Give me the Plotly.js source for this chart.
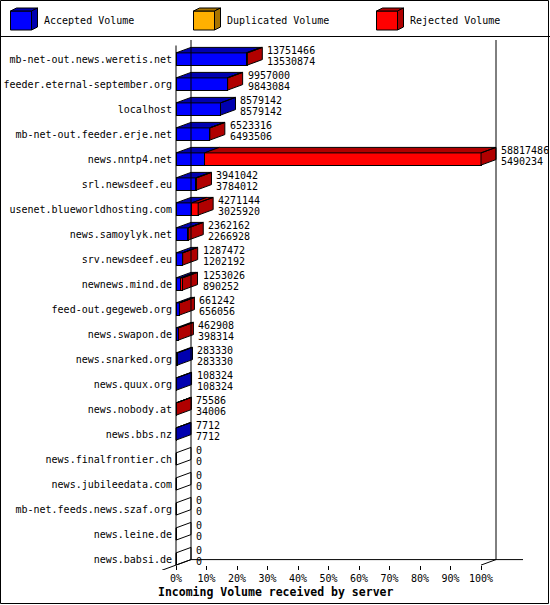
<!DOCTYPE html>
<html>
<head>
<meta charset="utf-8">
<script src="https://cdn.plot.ly/plotly-3.0.1.min.js"></script>
<style>
  html, body { margin: 0; padding: 0; background: #fff; }
  #chart { width: 550px; height: 605px; }
</style>
</head>
<body>
<div id="chart"></div>
<script>
const hosts = [
  'mb-net-out.news.weretis.net', 'feeder.eternal-september.org', 'localhost',
  'mb-net-out.feeder.erje.net', 'news.nntp4.net', 'srl.newsdeef.eu',
  'usenet.blueworldhosting.com', 'news.samoylyk.net', 'srv.newsdeef.eu',
  'newnews.mind.de', 'feed-out.gegeweb.org', 'news.swapon.de',
  'news.snarked.org', 'news.quux.org', 'news.nobody.at', 'news.bbs.nz',
  'news.finalfrontier.ch', 'news.jubileedata.com', 'mb-net.feeds.news.szaf.org',
  'news.leine.de', 'news.babsi.de',
]
const offered = [13751466, 9957000, 8579142, 6523316, 58817486, 3941042, 4271144, 2362162, 1287472, 1253026, 661242, 462908, 283330, 108324, 75586, 7712, 0, 0, 0, 0, 0]
const accepted = [13530874, 9843084, 8579142, 6493506, 5490234, 3784012, 3025920, 2266928, 1202192, 890252, 656056, 398314, 283330, 108324, 34006, 7712, 0, 0, 0, 0, 0]
const duplicated = [0, 0, 0, 0, 0, 0, 0, 0, 0, 0, 0, 0, 0, 0, 0, 0, 0, 0, 0, 0, 0]
const rejected = offered.map((o, i) => o - accepted[i] - duplicated[i])

const seriesNames = ['Accepted Volume', 'Duplicated Volume', 'Rejected Volume']
const frontColors = ['#0000ff', '#ffb000', '#ff0000']
const darkColors = ['#0000b0', '#a87400', '#b00000']
const xTicks = [0, 10, 20, 30, 40, 50, 60, 70, 80, 90, 100]

const FONT = 'DejaVu Sans Mono, Liberation Mono, monospace'
const W = 550
const H = 605
const M = { l: 162, r: 27, t: 40, b: 35 }
const pw = W - M.l - M.r
const ph = H - M.t - M.b
const px = X => (X - M.l) / pw
const py = Y => (H - M.b - Y) / ph

// front-left corner of the 3d box sits at pixel 176, 305px per 100%
const X0 = 176
const PPU = 3.05
const ROW0 = 59
const ROW = 25
const xr = [(M.l - X0) / PPU, (W - M.r - X0) / PPU]
const yr = [(H - M.b - ROW0) / ROW, (M.t - ROW0) / ROW]
const DX = 15 / PPU
const DY = -5.5 / ROW
const HB = 6.1 / ROW

const max = Math.max(...offered)
const segs = [accepted, duplicated, rejected].map(a => a.map(v => (100 * v) / max))
const idx = hosts.map((_, i) => i)

const traces = segs.map((s, k) => ({
  type: 'bar',
  orientation: 'h',
  x: s,
  y: idx,
  width: 2 * HB,
  marker: { color: frontColors[k], line: { color: '#000', width: 1 } },
  hoverinfo: 'skip',
  name: seriesNames[k],
}))

// top and side faces of the 3d bars
const faces = [0, 1, 2].map(() => ({ x: [], y: [] }))
const empty = { x: [], y: [] }
const poly = (f, pts) => {
  for (const [x, y] of pts) {
    f.x.push(x)
    f.y.push(y)
  }
  f.x.push(pts[0][0], null)
  f.y.push(pts[0][1], null)
}
idx.forEach(i => {
  const yt = i - HB
  const yb = i + HB
  let x0 = 0
  let last = -1
  segs.forEach((s, k) => {
    const v = s[i]
    if (v <= 0) return
    poly(faces[k], [[x0, yt], [x0 + v, yt], [x0 + v + DX, yt + DY], [x0 + DX, yt + DY]])
    x0 += v
    last = k
  })
  poly(last < 0 ? empty : faces[last], [[x0, yt], [x0 + DX, yt + DY], [x0 + DX, yb + DY], [x0, yb]])
})
faces.forEach((f, k) => {
  traces.push({
    type: 'scatter', mode: 'lines', x: f.x, y: f.y, fill: 'toself',
    fillcolor: darkColors[k], line: { color: '#000', width: 1 }, hoverinfo: 'skip',
  })
})
traces.push({
  type: 'scatter', mode: 'lines', x: empty.x, y: empty.y,
  line: { color: '#000', width: 1 }, hoverinfo: 'skip',
})

const yFloor = hosts.length - 1 + HB
const line = (x0, y0, x1, y1) => ({
  type: 'line', xref: 'x', yref: 'y', x0, y0, x1, y1, line: { color: '#000', width: 1 },
})
const shapes = [
  line(0, yr[1] - DY, 0, yFloor),
  line(DX, yr[1], DX, yFloor + DY),
  line(100 + DX, yr[1], 100 + DX, yFloor + DY),
  line(DX, yFloor + DY, xr[1], yFloor + DY),
  line(xr[0], yFloor + (DY * xr[0]) / DX, DX, yFloor + DY),
  line(100, yFloor, 100 + DX, yFloor + DY),
  // frame and legend separator
  {
    type: 'rect', xref: 'paper', yref: 'paper', x0: px(0.5), y0: py(0.5), x1: px(W - 1.5), y1: py(H - 1.5),
    line: { color: '#000', width: 1 },
  },
  {
    type: 'line', xref: 'paper', yref: 'paper', x0: px(0), y0: py(36.5), x1: px(W), y1: py(36.5),
    line: { color: '#000', width: 1 },
  },
]

const annotations = []
const pathOf = pts => 'M' + pts.map(([x, y]) => `${px(x)},${py(y)}`).join('L') + 'Z'
seriesNames.forEach((name, k) => {
  const lx = 10.5 + k * 183
  const ty = 11
  const boxes = [
    [[lx, ty], [lx + 21, ty], [lx + 21, ty + 19], [lx, ty + 19]],
    [[lx, ty], [lx + 6, ty - 3], [lx + 27, ty - 3], [lx + 21, ty]],
    [[lx + 21, ty], [lx + 27, ty - 3], [lx + 27, ty + 16], [lx + 21, ty + 19]],
  ]
  boxes.forEach((b, j) => {
    shapes.push({
      type: 'path', xref: 'paper', yref: 'paper', path: pathOf(b),
      fillcolor: j === 0 ? frontColors[k] : darkColors[k], line: { color: '#000', width: 1 },
    })
  })
  annotations.push({
    xref: 'paper', yref: 'paper', x: px(lx + 31), y: py(21), xanchor: 'left', yanchor: 'middle',
    text: name, showarrow: false, font: { family: FONT, size: 10, color: '#000' },
  })
})

idx.forEach(i => {
  const xe = segs[0][i] + segs[1][i] + segs[2][i] + DX
  const lab = (text, shift) => ({
    x: xe, y: i, xref: 'x', yref: 'y', xanchor: 'left', yanchor: 'middle', xshift: 3, yshift: shift,
    text: String(text), showarrow: false, font: { family: FONT, size: 10, color: '#000' },
  })
  annotations.push(lab(offered[i], 9), lab(accepted[i], -2))
})

annotations.push({
  xref: 'paper', yref: 'paper', x: px(275), y: py(592), xanchor: 'center', yanchor: 'middle',
  text: '<b>Incoming Volume received by server</b>', showarrow: false,
  font: { family: FONT, size: 11.5, color: '#000' },
})

Plotly.newPlot(
  'chart',
  traces,
  {
    width: W,
    height: H,
    margin: M,
    paper_bgcolor: '#fff',
    plot_bgcolor: '#fff',
    showlegend: false,
    barmode: 'stack',
    bargap: 0,
    xaxis: {
      range: xr, anchor: 'free', position: py(565), showgrid: false, zeroline: false, showline: false,
      tickvals: xTicks, ticktext: xTicks.map(t => t + '%'), ticks: 'outside', ticklen: 4, tickcolor: '#000',
      tickfont: { family: FONT, size: 10, color: '#000' }, fixedrange: true,
    },
    yaxis: {
      range: yr, anchor: 'free', position: px(X0), showgrid: false, zeroline: false, showline: false,
      tickvals: idx, ticktext: hosts, ticks: '', ticklabelstandoff: 4,
      tickfont: { family: FONT, size: 10, color: '#000' }, fixedrange: true,
    },
    shapes,
    annotations,
  },
  { displayModeBar: false, staticPlot: true },
)
</script>
</body>
</html>
